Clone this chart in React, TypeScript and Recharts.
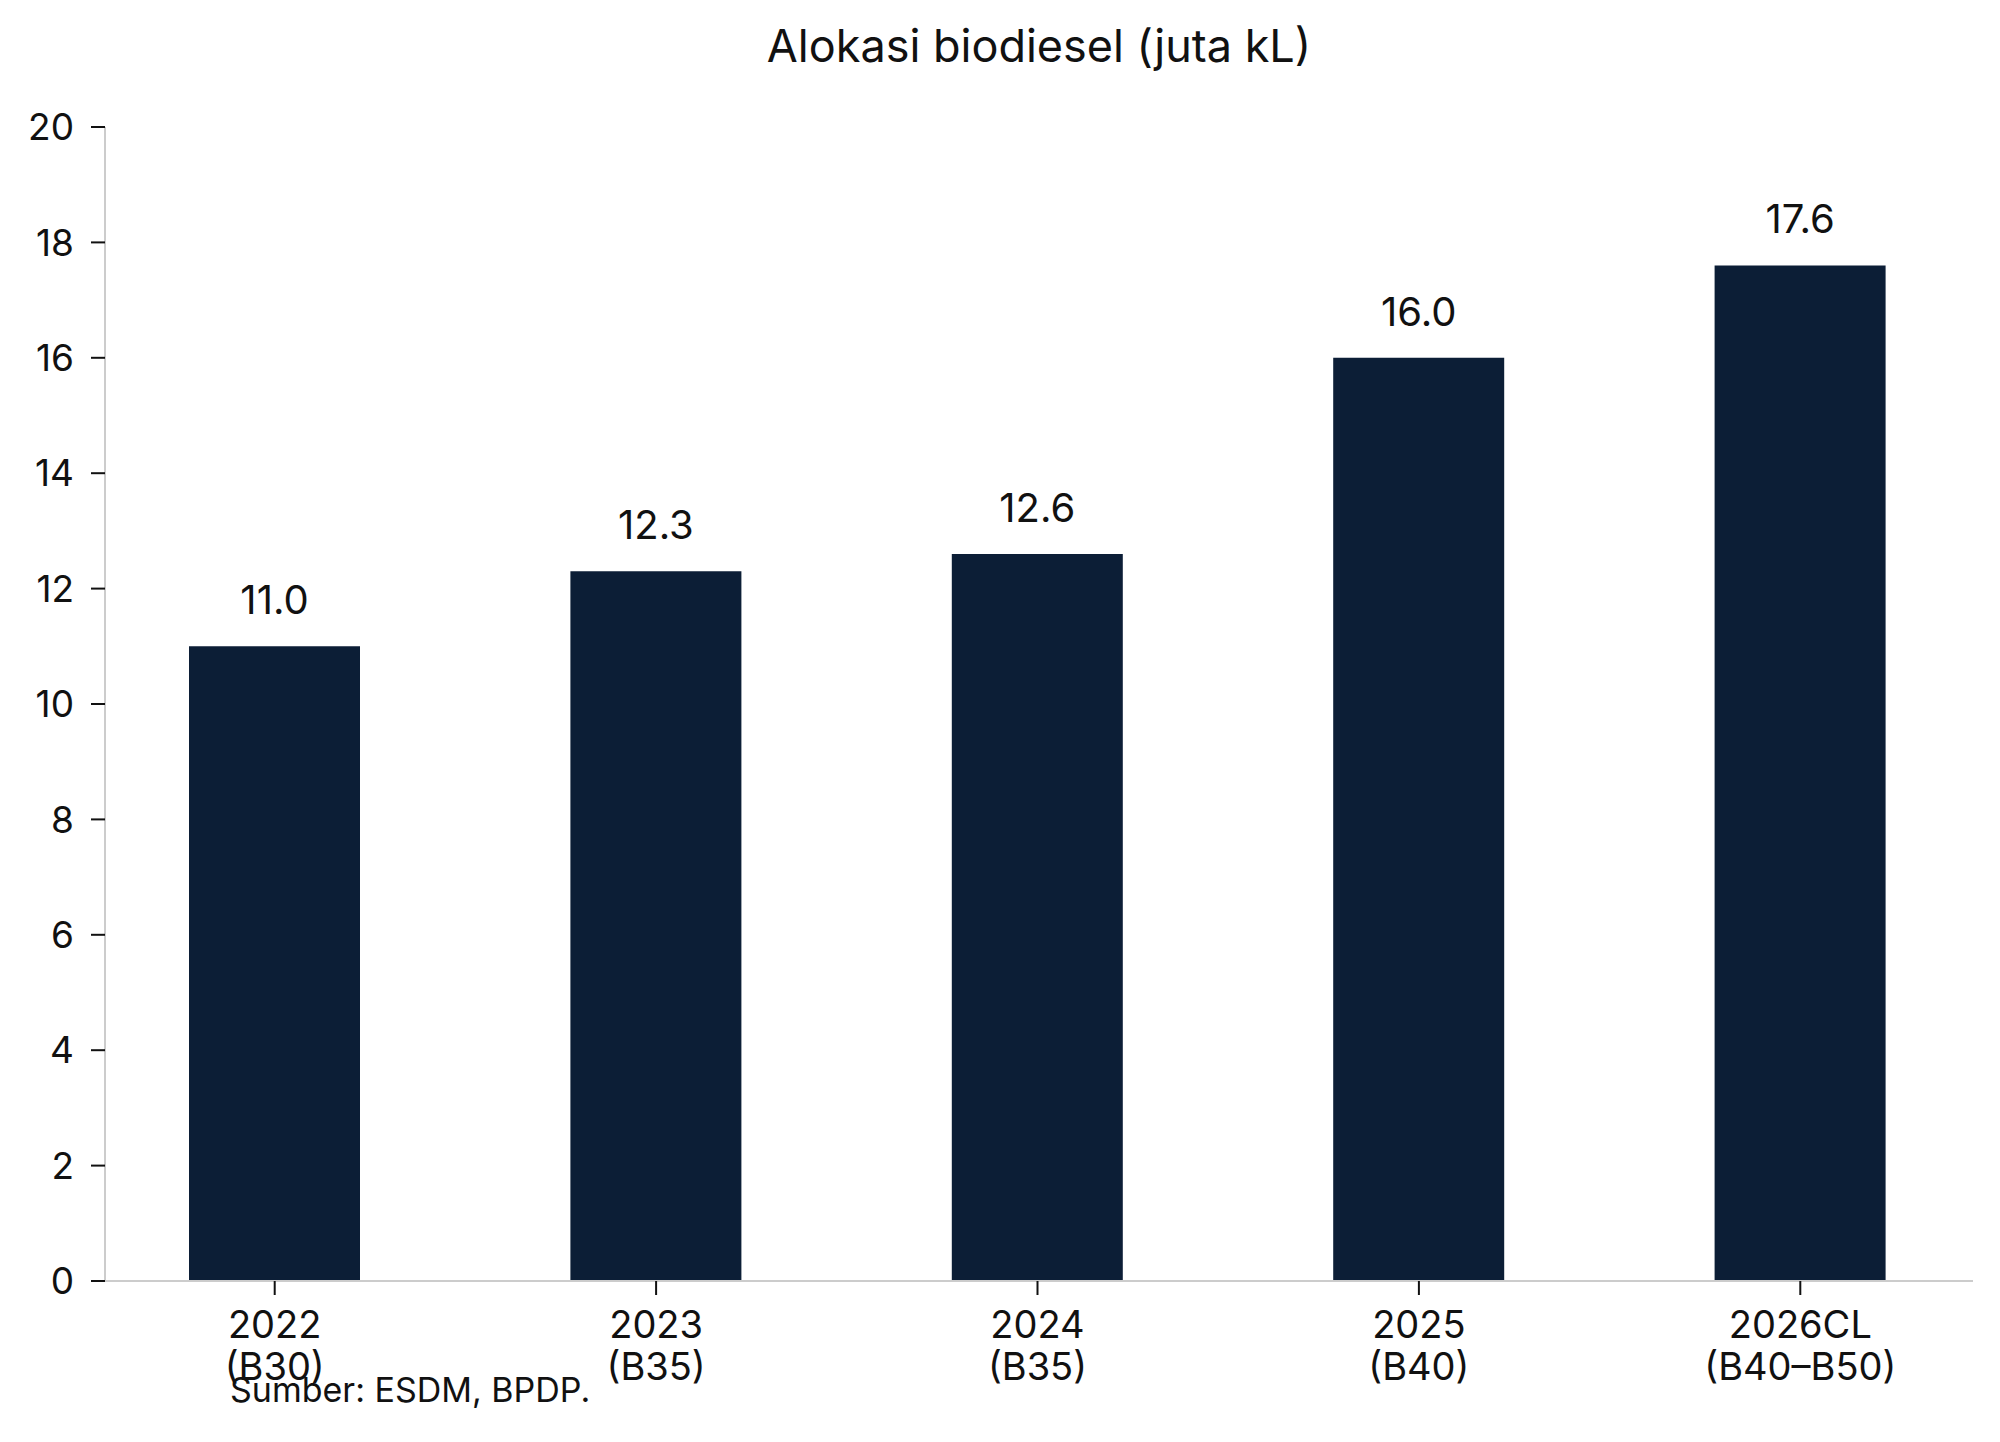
import React from 'react';
import { BarChart, Bar, XAxis, YAxis, LabelList } from 'recharts';

const years = ['2022', '2023', '2024', '2025', '2026CL'];
const mandates = ['(B30)', '(B35)', '(B35)', '(B40)', '(B40–B50)'];
const allocation = [11.0, 12.3, 12.6, 16.0, 17.6];
const yTicks = [0, 2, 4, 6, 8, 10, 12, 14, 16, 18, 20];

const data = years.map((year, i) => ({
  name: year,
  sub: mandates[i],
  value: allocation[i],
}));

const FONT = 'Inter, "Open Sans", sans-serif';
const BAR_COLOR = '#0c1e36';

const XTick = (props: any) => {
  const { x, y, payload, index } = props;
  return (
    <g transform={`translate(${x},${y})`}>
      <text textAnchor="middle" fontSize={38} fontFamily={FONT} fill="#111">
        <tspan x={0} y={43}>{payload.value}</tspan>
        <tspan x={0} y={85}>{mandates[index]}</tspan>
      </text>
    </g>
  );
};

export default function App() {
  return (
    <div style={{ position: 'absolute', left: 0, top: 0, width: 2000, height: 1442, background: '#fff' }}>
      <div
        style={{
          position: 'absolute',
          left: 105,
          width: 1868,
          top: 16,
          textAlign: 'center',
          fontFamily: FONT,
          fontSize: 45,
          color: '#111',
          lineHeight: '60px',
        }}
      >
        Alokasi biodiesel (juta kL)
      </div>
      <BarChart
        width={2000}
        height={1442}
        data={data}
        margin={{ top: 127, right: 27, bottom: 41, left: 0 }}
      >
        <XAxis
          dataKey="name"
          height={120}
          interval={0}
          padding={{ left: -21, right: -18 }}
          axisLine={{ stroke: '#cccccc', strokeWidth: 2 }}
          tickLine={{ stroke: '#111', strokeWidth: 2 }}
          tickSize={14}
          tickMargin={0}
          tick={<XTick />}
        />
        <YAxis
          width={105}
          domain={[0, 20]}
          ticks={yTicks}
          interval={0}
          axisLine={{ stroke: '#cccccc', strokeWidth: 2 }}
          tickLine={{ stroke: '#111', strokeWidth: 2 }}
          tickSize={14}
          tickMargin={17}
          tick={{ fontSize: 37, fontFamily: FONT, fill: '#111' }}
        />
        <Bar dataKey="value" fill={BAR_COLOR} barSize={171} isAnimationActive={false}>
          <LabelList
            dataKey="value"
            position="top"
            offset={32}
            formatter={(v: any) => Number(v).toFixed(1)}
            style={{ fontSize: 40, fontFamily: FONT, fill: '#111' }}
          />
        </Bar>
      </BarChart>
      <div
        style={{
          position: 'absolute',
          left: 230,
          top: 1368,
          fontFamily: FONT,
          fontSize: 34,
          color: '#111',
          lineHeight: '44px',
        }}
      >
        Sumber: ESDM, BPDP.
      </div>
    </div>
  );
}
